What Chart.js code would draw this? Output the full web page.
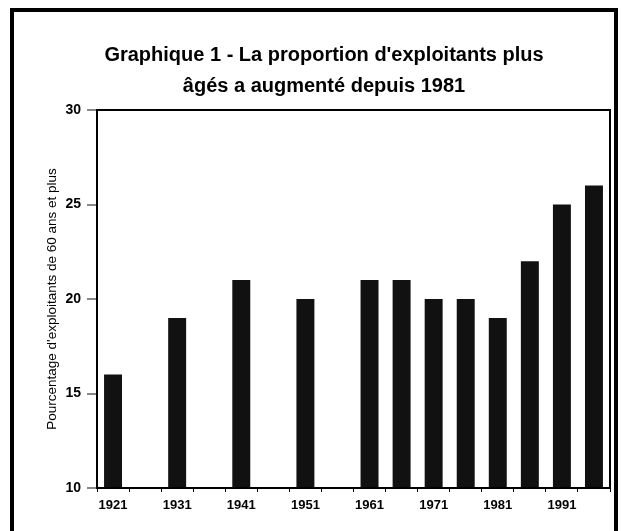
<!DOCTYPE html>
<html>
<head>
<meta charset="utf-8">
<script src="https://cdn.jsdelivr.net/npm/chart.js@4.4.1/dist/chart.umd.min.js"></script>
<style>
  body { margin: 0; background: #fff; }
  #wrap { position: relative; width: 622px; height: 531px; }
  #frame {
    position: absolute; left: 10px; top: 8px; width: 600px; height: 530px;
    border: 4px solid #000; border-bottom: none; pointer-events: none;
  }
</style>
</head>
<body>
<div id="wrap">
  <canvas id="chart" width="622" height="531"></canvas>
  <div id="frame"></div>
</div>
<script>
// années de recensement (les années sans donnée restent vides)
const years = ['1921', '1926', '1931', '1936', '1941', '1946', '1951', '1956',
               '1961', '1966', '1971', '1976', '1981', '1986', '1991', '1996'];
const pct = [16, null, 19, null, 21, null, 20, null, 21, 21, 20, 20, 19, 22, 25, 26];
const xTickLabels = ['1921', '1931', '1941', '1951', '1961', '1971', '1981', '1991'];
const yTicks = [10, 15, 20, 25, 30];

const titleLines = ["Graphique 1 - La proportion d'exploitants plus", "âgés a augmenté depuis 1981"];
const yTitle = "Pourcentage d'exploitants de 60 ans et plus";

const FONT = "'Liberation Sans', Arial, sans-serif";

// cadre noir autour de la zone de tracé
const plotFrame = {
    id: 'plotFrame',
    afterDatasetsDraw(chart) {
        const { ctx, chartArea: a } = chart;
        ctx.save();
        ctx.strokeStyle = '#000';
        ctx.lineWidth = 2;
        ctx.strokeRect(a.left, a.top, a.right - a.left, a.bottom - a.top);
        ctx.restore();
    }
};

const ctx = document.getElementById('chart').getContext('2d');
new Chart(ctx, {
    type: 'bar',
    data: {
        labels: years,
        datasets: [{
            data: pct,
            backgroundColor: '#111',
            borderWidth: 0,
            barPercentage: 0.56,
            categoryPercentage: 1,
        }]
    },
    options: {
        responsive: false,
        animation: false,
        devicePixelRatio: 1,
        layout: { padding: { left: 38, right: 12, top: 0, bottom: 0 } },
        plugins: {
            legend: { display: false },
            tooltip: { enabled: false },
            title: {
                display: true,
                text: titleLines,
                color: '#000',
                font: { family: FONT, size: 20, weight: 'bold', lineHeight: 1.55 },
                padding: { top: 40, bottom: 8 },
            },
        },
        scales: {
            x: {
                grid: { offset: true, drawOnChartArea: false, drawTicks: true, tickLength: 4, color: '#000' },
                border: { display: true, color: '#000', width: 2 },
                ticks: {
                    autoSkip: false,
                    maxRotation: 0,
                    padding: 6,
                    color: '#000',
                    font: { family: FONT, size: 13, weight: 'bold' },
                    callback: function (v) {
                        const lab = this.getLabelForValue(v);
                        return xTickLabels.includes(lab) ? lab : '';
                    }
                },
                afterFit: s => { s.height = 43; },
            },
            y: {
                min: yTicks[0],
                max: yTicks[yTicks.length - 1],
                afterBuildTicks: s => { s.ticks = yTicks.map(v => ({ value: v })); },
                grid: { drawOnChartArea: false, drawTicks: true, tickLength: 10, color: '#888', lineWidth: 2 },
                border: { display: true, color: '#000', width: 2 },
                ticks: {
                    padding: 6,
                    color: '#000',
                    font: { family: FONT, size: 14, weight: 'bold' },
                },
                title: {
                    display: true,
                    text: yTitle,
                    color: '#000',
                    padding: { top: 6, bottom: 0 },
                    font: { family: FONT, size: 13.5 },
                },
                afterFit: s => { s.width = 59; },
            }
        }
    },
    plugins: [plotFrame]
});
</script>
</body>
</html>
